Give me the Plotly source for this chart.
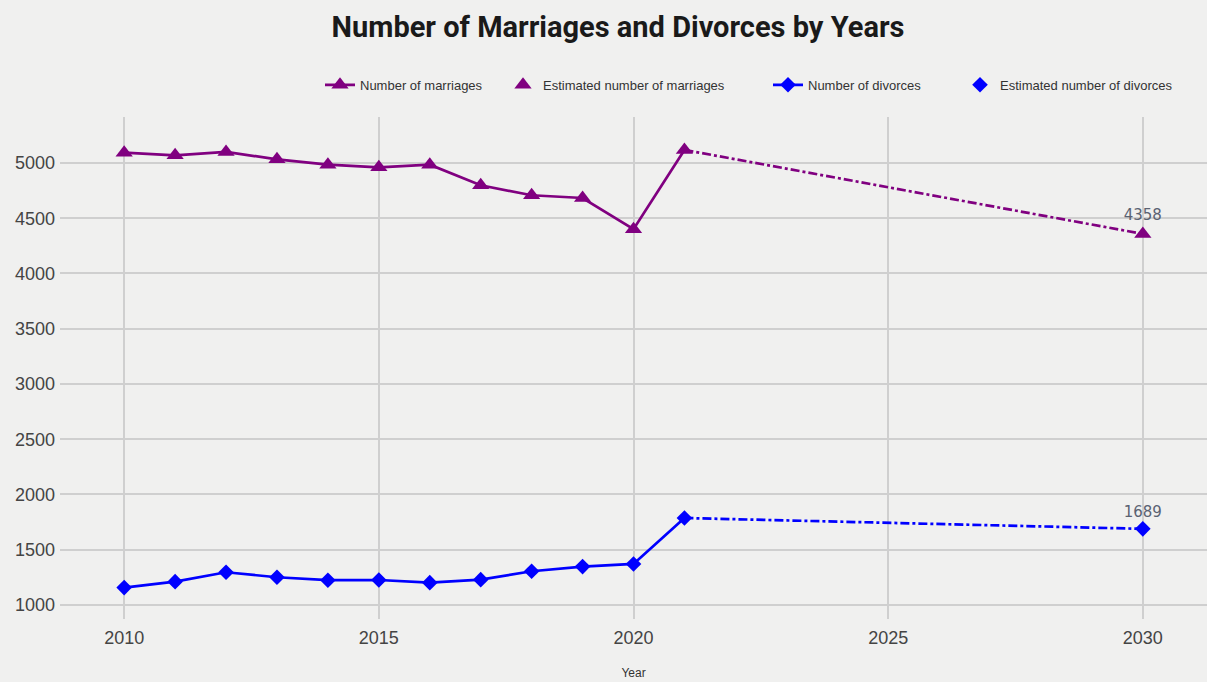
import plotly.graph_objects as go

years = [2010, 2011, 2012, 2013, 2014, 2015, 2016, 2017, 2018, 2019, 2020, 2021]
marriages = [5093, 5069, 5100, 5033, 4985, 4961, 4985, 4798, 4708, 4683, 4400, 5118]
divorces = [1157, 1211, 1296, 1251, 1224, 1226, 1202, 1229, 1305, 1347, 1371, 1787]
est_year = [2030]
est_marriages = [4358]
est_divorces = [1689]

PURPLE = "#800080"
BLUE = "#0000ff"
BG = "#f0f0ef"

fig = go.Figure()

fig.add_trace(go.Scatter(
    x=years, y=marriages, mode="lines+markers", name="Number of marriages",
    line=dict(color=PURPLE, width=2.7), legend="legend",
    marker=dict(symbol="triangle-up", size=15, color=PURPLE),
))
fig.add_trace(go.Scatter(
    x=[years[-1]] + est_year, y=[marriages[-1]] + est_marriages, mode="lines",
    line=dict(color=PURPLE, width=2.7, dash="dashdot"), showlegend=False, hoverinfo="skip",
))
fig.add_trace(go.Scatter(
    x=est_year, y=est_marriages, mode="markers+text", name="Estimated number of marriages",
    marker=dict(symbol="triangle-up", size=15, color=PURPLE), legend="legend2",
    text=[str(v) for v in est_marriages], textposition="top center",
    textfont=dict(family="DejaVu Sans", size=15, color="#5a6272"),
))
fig.add_trace(go.Scatter(
    x=years, y=divorces, mode="lines+markers", name="Number of divorces",
    line=dict(color=BLUE, width=2.7), legend="legend3",
    marker=dict(symbol="diamond", size=12, color=BLUE),
))
fig.add_trace(go.Scatter(
    x=[years[-1]] + est_year, y=[divorces[-1]] + est_divorces, mode="lines",
    line=dict(color=BLUE, width=2.7, dash="dashdot"), showlegend=False, hoverinfo="skip",
))
fig.add_trace(go.Scatter(
    x=est_year, y=est_divorces, mode="markers+text", name="Estimated number of divorces",
    marker=dict(symbol="diamond", size=12, color=BLUE), legend="legend4",
    text=[str(v) for v in est_divorces], textposition="top center",
    textfont=dict(family="DejaVu Sans", size=15, color="#5a6272"),
))

# text start pixel positions of each legend entry in the reference
legend_text_px = [360, 543, 808, 1000]
leg_common = dict(orientation="h", xanchor="left", y=1.064, yanchor="middle",
                  font=dict(family="Liberation Sans", size=13, color="#333"),
                  bgcolor="rgba(0,0,0,0)")
legs = {}
for i, px in enumerate(legend_text_px):
    key = "legend" if i == 0 else f"legend{i+1}"
    legs[key] = dict(leg_common, x=(px - 60 - 40) / 1147)

fig.update_layout(
    width=1207, height=682,
    paper_bgcolor=BG, plot_bgcolor=BG,
    margin=dict(l=60, r=0, t=117, b=63),
    title=dict(text="<b>Number of Marriages and Divorces by Years</b>",
               x=618 / 1207, xanchor="center", y=0.96, yanchor="middle",
               font=dict(family="Roboto", size=29, color="#1a1a1a")),
    showlegend=True,
    **legs,
)
fig.update_xaxes(
    range=[2008.74, 2031.26], tickvals=[2010, 2015, 2020, 2025, 2030],
    showgrid=True, gridcolor="#cfcfcf", gridwidth=1.5, zeroline=False,
    showline=False, ticks="", ticklabelstandoff=6,
    tickfont=dict(family="Liberation Sans", size=18, color="#444"),
    title=dict(text="Year", font=dict(family="Liberation Sans", size=12, color="#333"), standoff=21),
)
fig.update_yaxes(
    range=[873, 5416], tickvals=[1000, 1500, 2000, 2500, 3000, 3500, 4000, 4500, 5000],
    showgrid=True, gridcolor="#cfcfcf", gridwidth=1.5, zeroline=False,
    showline=False, ticks="", ticklabelstandoff=4,
    tickfont=dict(family="Liberation Sans", size=18, color="#444"),
)

fig.write_html(
    "out.html",
    config={"displayModeBar": False},
    post_script="document.body.style.margin='0';document.body.style.overflow='hidden';",
)
